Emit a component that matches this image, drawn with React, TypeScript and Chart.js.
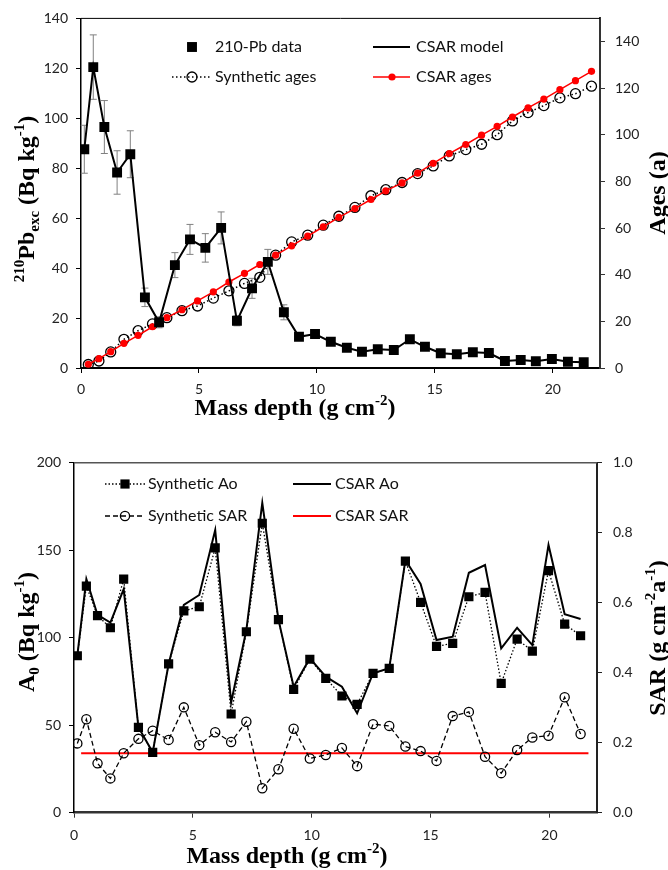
import React, { useEffect, useRef } from 'react';
import { Chart, registerables } from 'chart.js';
Chart.register(...registerables);

// ---------- DATA ----------
const depthMid = [0.14, 0.52, 0.99, 1.53, 2.09, 2.71, 3.31, 3.98, 4.62, 5.27, 5.94, 6.61, 7.25, 7.92, 8.6, 9.24, 9.92, 10.59, 11.27, 11.91, 12.58, 13.26, 13.94, 14.58, 15.25, 15.93, 16.61, 17.29, 17.97, 18.64, 19.28, 19.96, 20.64, 21.31];
const depthBase = [0.31, 0.76, 1.26, 1.82, 2.42, 3.03, 3.64, 4.28, 4.94, 5.61, 6.27, 6.93, 7.58, 8.25, 8.93, 9.61, 10.27, 10.93, 11.61, 12.29, 12.92, 13.61, 14.27, 14.93, 15.61, 16.31, 16.98, 17.64, 18.29, 18.95, 19.62, 20.3, 20.96, 21.64];
const pbExcess = [87.6, 120.5, 96.5, 78.3, 85.6, 28.3, 18.3, 41.2, 51.5, 48.1, 56.1, 18.9, 31.9, 42.5, 22.3, 12.5, 13.6, 10.5, 8.1, 6.5, 7.5, 7.2, 11.5, 8.5, 5.9, 5.5, 6.3, 6.0, 2.8, 3.2, 2.7, 3.6, 2.5, 2.3];
const pbError = [9.6, 12.9, 10.6, 8.7, 9.4, 3.7, 2.2, 5.0, 6.0, 5.7, 6.4, 2.0, 4.0, 5.0, 3.0, 1.5, 1.5, 1.2, 1.0, 0.8, 0.9, 0.9, 1.2, 1.0, 0.8, 0.8, 0.8, 0.8, 0.5, 0.5, 0.5, 0.6, 0.5, 0.5];
const csarModel = [87.6, 120.5, 96.5, 78.3, 85.6, 28.3, 18.3, 41.2, 51.5, 48.1, 56.1, 18.9, 31.9, 42.5, 22.3, 12.5, 13.6, 10.5, 8.1, 6.5, 7.5, 7.2, 11.5, 8.5, 5.9, 5.5, 6.3, 6.0, 2.8, 3.2, 2.7, 3.6, 2.5, 2.3];
const syntheticAges = [1.5, 3.0, 6.9, 12.3, 16.0, 18.9, 21.6, 24.6, 26.6, 30.0, 33.1, 36.3, 38.9, 48.4, 54.1, 57.0, 61.3, 65.1, 68.9, 73.9, 76.5, 79.6, 83.4, 86.7, 91.0, 93.7, 96.0, 100.1, 106.0, 109.6, 112.6, 115.9, 117.7, 120.9];
const csarAges = [1.6, 4.0, 7.0, 10.6, 14.0, 17.7, 21.6, 25.0, 28.8, 32.7, 36.9, 40.6, 44.4, 48.4, 52.4, 56.6, 60.6, 64.6, 68.4, 72.3, 76.0, 79.4, 83.6, 87.8, 92.0, 95.9, 99.9, 103.7, 107.7, 111.6, 115.4, 119.4, 123.3, 127.3];
const syntheticA0 = [89.7, 129.5, 112.6, 105.7, 133.5, 48.8, 34.5, 85.0, 115.3, 117.7, 151.3, 56.4, 103.4, 165.4, 110.3, 70.5, 87.7, 76.8, 66.7, 61.9, 79.6, 82.5, 143.8, 120.2, 95.0, 96.8, 123.4, 125.9, 73.9, 99.2, 92.3, 138.3, 107.8, 101.1];
const csarA0 = [89.7, 133.5, 113.0, 108.6, 127.7, 48.8, 34.5, 85.0, 118.7, 124.4, 161.5, 63.0, 104.4, 177.0, 110.3, 72.0, 88.3, 77.7, 72.0, 56.8, 79.7, 82.5, 144.4, 130.7, 98.7, 100.6, 137.1, 141.5, 93.9, 105.7, 95.8, 153.0, 113.4, 110.7];
const syntheticSAR = [0.198, 0.267, 0.141, 0.098, 0.170, 0.211, 0.234, 0.208, 0.301, 0.193, 0.230, 0.202, 0.260, 0.070, 0.124, 0.240, 0.155, 0.165, 0.185, 0.133, 0.253, 0.248, 0.189, 0.176, 0.148, 0.276, 0.288, 0.160, 0.113, 0.179, 0.215, 0.220, 0.330, 0.225];
const csarSARDepths = [0.3, 21.64];
const csarSARValues = [0.17, 0.17];

const xTicks = [0, 5, 10, 15, 20];
const pbTicks = [0, 20, 40, 60, 80, 100, 120, 140];
const ageTicks = [0, 20, 40, 60, 80, 100, 120, 140];
const a0Ticks = [0, 50, 100, 150, 200];
const sarTicks = [0, 0.2, 0.4, 0.6, 0.8, 1.0];

// ---------- HELPERS ----------
const TICK_FONT = { family: 'Lato, "Open Sans", sans-serif', size: 14 };
const LEGEND_FONT = '16px Lato, "Open Sans", sans-serif';
const SERIF = '"Liberation Serif", "Times New Roman", serif';
const T = 24; // title font size
const S = 15; // sub/superscript size

type Seg = { t: string; s: number; dy?: number };
type Title = { segs: Seg[]; x: number; y: number; rot: number };

function drawRich(ctx: CanvasRenderingContext2D, t: Title) {
  ctx.save();
  ctx.translate(t.x, t.y);
  ctx.rotate(t.rot);
  ctx.fillStyle = '#000';
  ctx.textBaseline = 'alphabetic';
  ctx.textAlign = 'left';
  const widths = t.segs.map((s) => {
    ctx.font = `bold ${s.s}px ${SERIF}`;
    return ctx.measureText(s.t).width;
  });
  const total = widths.reduce((a, b) => a + b, 0);
  let x = -total / 2;
  t.segs.forEach((s, i) => {
    ctx.font = `bold ${s.s}px ${SERIF}`;
    ctx.fillText(s.t, x, s.dy || 0);
    x += widths[i];
  });
  ctx.restore();
}

type LegendItem = {
  label: string;
  ds: number;
  line?: [number, number];
  mx?: number;
  tx: number;
  y: number;
};

function drawMarker(ctx: CanvasRenderingContext2D, ds: any, x: number, y: number) {
  const r = ds.pointRadius;
  if (!r) return;
  ctx.save();
  ctx.setLineDash([]);
  if (ds.pointStyle === 'rect') {
    const h = r * Math.SQRT1_2;
    ctx.fillStyle = ds.pointBackgroundColor;
    ctx.fillRect(x - h, y - h, 2 * h, 2 * h);
  } else {
    ctx.beginPath();
    ctx.arc(x, y, r, 0, Math.PI * 2);
    ctx.fillStyle = ds.pointBackgroundColor;
    ctx.fill();
    if (ds.pointBorderWidth) {
      ctx.lineWidth = ds.pointBorderWidth;
      ctx.strokeStyle = ds.pointBorderColor;
      ctx.stroke();
    }
  }
  ctx.restore();
}

function makeDecorPlugin(titles: Title[], legend: LegendItem[], topBorder: { color: string; width: number }) {
  return {
    id: 'decor',
    afterDraw(chart: any) {
      const ctx: CanvasRenderingContext2D = chart.ctx;
      const a = chart.chartArea;
      ctx.save();
      ctx.strokeStyle = topBorder.color;
      ctx.lineWidth = topBorder.width;
      ctx.beginPath();
      ctx.moveTo(a.left, a.top);
      ctx.lineTo(a.right, a.top);
      ctx.stroke();
      ctx.restore();
      titles.forEach((t) => drawRich(ctx, t));
      legend.forEach((it) => {
        const ds = chart.data.datasets[it.ds];
        if (it.line) {
          ctx.save();
          ctx.strokeStyle = ds.borderColor;
          ctx.lineWidth = ds.borderWidth;
          ctx.setLineDash(ds.borderDash || []);
          ctx.beginPath();
          ctx.moveTo(it.line[0], it.y);
          ctx.lineTo(it.line[1], it.y);
          ctx.stroke();
          ctx.restore();
        }
        if (it.mx !== undefined) drawMarker(ctx, ds, it.mx, it.y);
        ctx.save();
        ctx.font = LEGEND_FONT;
        ctx.fillStyle = '#111';
        ctx.textBaseline = 'middle';
        ctx.textAlign = 'left';
        ctx.fillText(it.label, it.tx, it.y);
        ctx.restore();
      });
    },
  };
}

const errorBarPlugin = {
  id: 'errorBars',
  beforeDatasetsDraw(chart: any) {
    const ctx: CanvasRenderingContext2D = chart.ctx;
    const xs = chart.scales.x;
    const ys = chart.scales.y;
    ctx.save();
    ctx.strokeStyle = '#808080';
    ctx.lineWidth = 1;
    depthMid.forEach((d, i) => {
      const x = xs.getPixelForValue(d);
      const y1 = ys.getPixelForValue(pbExcess[i] + pbError[i]);
      const y2 = ys.getPixelForValue(pbExcess[i] - pbError[i]);
      ctx.beginPath();
      ctx.moveTo(x, y1);
      ctx.lineTo(x, y2);
      ctx.moveTo(x - 3.5, y1);
      ctx.lineTo(x + 3.5, y1);
      ctx.moveTo(x - 3.5, y2);
      ctx.lineTo(x + 3.5, y2);
      ctx.stroke();
    });
    ctx.restore();
  },
};

function axis(opts: {
  pos: 'left' | 'right' | 'bottom';
  min: number;
  max: number;
  ticks: number[];
  size: number;
  pad: number;
  border: { color: string; width: number };
  fmt?: (v: number) => string;
}) {
  return {
    type: 'linear',
    position: opts.pos,
    min: opts.min,
    max: opts.max,
    afterBuildTicks: (s: any) => {
      s.ticks = opts.ticks.map((v) => ({ value: v }));
    },
    afterFit: (s: any) => {
      if (opts.pos === 'bottom') s.height = opts.size;
      else s.width = opts.size;
    },
    grid: {
      display: true,
      drawOnChartArea: false,
      drawTicks: true,
      tickLength: 5,
      color: opts.border.color,
      lineWidth: 1,
    },
    border: { display: true, color: opts.border.color, width: opts.border.width },
    ticks: {
      font: TICK_FONT,
      color: '#222',
      padding: opts.pad,
      callback: (v: any) => (opts.fmt ? opts.fmt(Number(v)) : String(v)),
    },
  };
}

const pts = (xs: number[], ys: number[]) => xs.map((x, i) => ({ x, y: ys[i] }));

function TopChart() {
  const ref = useRef<HTMLCanvasElement>(null);
  useEffect(() => {
    const titles: Title[] = [
      { segs: [{ t: 'Mass depth (g cm', s: T }, { t: '-2', s: S, dy: -10 }, { t: ')', s: T }], x: 295, y: 415, rot: 0 },
      {
        segs: [
          { t: '210', s: S, dy: -10 },
          { t: 'Pb', s: T },
          { t: 'exc', s: S, dy: 5 },
          { t: ' (Bq kg', s: T },
          { t: '-1', s: S, dy: -10 },
          { t: ')', s: T },
        ],
        x: 34,
        y: 199,
        rot: -Math.PI / 2,
      },
      { segs: [{ t: 'Ages (a)', s: T }], x: 665, y: 193, rot: -Math.PI / 2 },
    ];
    const legend: LegendItem[] = [
      { label: '210-Pb data', ds: 0, mx: 192, tx: 215, y: 47 },
      { label: 'CSAR model', ds: 1, line: [373, 410], tx: 416, y: 47 },
      { label: 'Synthetic ages', ds: 3, line: [172, 210], mx: 192, tx: 215, y: 77 },
      { label: 'CSAR ages', ds: 2, line: [373, 410], mx: 392, tx: 416, y: 77 },
    ];
    const chart = new Chart(ref.current!, {
      type: 'scatter',
      data: {
        datasets: [
          {
            label: '210-Pb data',
            data: pts(depthMid, pbExcess),
            showLine: false,
            pointStyle: 'rect',
            pointRadius: 7,
            pointBackgroundColor: '#000',
            pointBorderWidth: 0,
            borderColor: '#000',
            yAxisID: 'y',
            order: 0,
          },
          {
            label: 'CSAR model',
            data: pts(depthMid, csarModel),
            showLine: true,
            borderColor: '#000',
            borderWidth: 2,
            pointRadius: 0,
            yAxisID: 'y',
            order: 1,
          },
          {
            label: 'CSAR ages',
            data: pts(depthBase, csarAges),
            showLine: true,
            borderColor: '#ff0000',
            borderWidth: 1.5,
            pointRadius: 3.6,
            pointStyle: 'circle',
            pointBackgroundColor: '#ff0000',
            pointBorderWidth: 0,
            yAxisID: 'y2',
            order: 2,
          },
          {
            label: 'Synthetic ages',
            data: pts(depthBase, syntheticAges),
            showLine: true,
            borderColor: '#000',
            borderWidth: 1.5,
            borderDash: [1.5, 2.5],
            pointRadius: 5,
            pointStyle: 'circle',
            pointBackgroundColor: 'rgba(0,0,0,0)',
            pointBorderColor: '#000',
            pointBorderWidth: 1.3,
            yAxisID: 'y2',
            order: 3,
          },
        ],
      },
      options: {
        responsive: false,
        animation: false,
        layout: { padding: { top: 18, left: 0, right: 0, bottom: 0 } },
        plugins: { legend: { display: false }, tooltip: { enabled: false } },
        scales: {
          x: axis({ pos: 'bottom', min: 0, max: 22, ticks: xTicks, size: 52, pad: 8, border: { color: '#000', width: 2 } }),
          y: axis({ pos: 'left', min: 0, max: 140, ticks: pbTicks, size: 81, pad: 8, border: { color: '#000', width: 1.5 } }),
          y2: axis({ pos: 'right', min: 0, max: 150, ticks: ageTicks, size: 68, pad: 10, border: { color: '#333', width: 2 } }),
        } as any,
      },
      plugins: [errorBarPlugin, makeDecorPlugin(titles, legend, { color: '#000', width: 1 })],
    } as any);
    return () => chart.destroy();
  }, []);
  return <canvas ref={ref} width={668} height={420} style={{ display: 'block' }} />;
}

function BottomChart() {
  const ref = useRef<HTMLCanvasElement>(null);
  useEffect(() => {
    const titles: Title[] = [
      { segs: [{ t: 'Mass depth (g cm', s: T }, { t: '-2', s: S, dy: -10 }, { t: ')', s: T }], x: 287, y: 443, rot: 0 },
      {
        segs: [
          { t: 'A', s: T },
          { t: '0', s: S, dy: 5 },
          { t: ' (Bq kg', s: T },
          { t: '-1', s: S, dy: -10 },
          { t: ')', s: T },
        ],
        x: 34,
        y: 212,
        rot: -Math.PI / 2,
      },
      {
        segs: [
          { t: 'SAR (g cm', s: T },
          { t: '-2', s: S, dy: -10 },
          { t: 'a', s: T },
          { t: '-1', s: S, dy: -10 },
          { t: ')', s: T },
        ],
        x: 665,
        y: 218,
        rot: -Math.PI / 2,
      },
    ];
    const legend: LegendItem[] = [
      { label: 'Synthetic Ao', ds: 0, line: [105, 145], mx: 125, tx: 148, y: 64 },
      { label: 'CSAR Ao', ds: 1, line: [293, 331], tx: 335, y: 64 },
      { label: 'Synthetic SAR', ds: 2, line: [105, 145], mx: 125, tx: 148, y: 96 },
      { label: 'CSAR SAR', ds: 3, line: [293, 331], tx: 335, y: 96 },
    ];
    const chart = new Chart(ref.current!, {
      type: 'scatter',
      data: {
        datasets: [
          {
            label: 'Synthetic Ao',
            data: pts(depthMid, syntheticA0),
            showLine: true,
            borderColor: '#000',
            borderWidth: 1.3,
            borderDash: [1.5, 2],
            pointStyle: 'rect',
            pointRadius: 6.5,
            pointBackgroundColor: '#000',
            pointBorderWidth: 0,
            yAxisID: 'y',
            order: 0,
          },
          {
            label: 'CSAR Ao',
            data: pts(depthMid, csarA0),
            showLine: true,
            borderColor: '#000',
            borderWidth: 2,
            pointRadius: 0,
            yAxisID: 'y',
            order: 1,
          },
          {
            label: 'Synthetic SAR',
            data: pts(depthMid, syntheticSAR),
            showLine: true,
            borderColor: '#000',
            borderWidth: 1.3,
            borderDash: [5, 3],
            pointStyle: 'circle',
            pointRadius: 4.6,
            pointBackgroundColor: 'rgba(0,0,0,0)',
            pointBorderColor: '#000',
            pointBorderWidth: 1.3,
            yAxisID: 'y2',
            order: 2,
          },
          {
            label: 'CSAR SAR',
            data: pts(csarSARDepths, csarSARValues),
            showLine: true,
            borderColor: '#ff0000',
            borderWidth: 2,
            pointRadius: 0,
            yAxisID: 'y2',
            order: 3,
          },
        ],
      },
      options: {
        responsive: false,
        animation: false,
        layout: { padding: { top: 42.7, left: 0, right: 0, bottom: 0 } },
        plugins: { legend: { display: false }, tooltip: { enabled: false } },
        scales: {
          x: axis({ pos: 'bottom', min: 0, max: 22, ticks: xTicks, size: 57.3, pad: 9, border: { color: '#333', width: 2.5 } }),
          y: axis({ pos: 'left', min: 0, max: 200, ticks: a0Ticks, size: 74, pad: 8, border: { color: '#000', width: 1.5 } }),
          y2: axis({
            pos: 'right',
            min: 0,
            max: 1,
            ticks: sarTicks,
            size: 71,
            pad: 11,
            border: { color: '#222', width: 2 },
            fmt: (v) => v.toFixed(1),
          }),
        } as any,
      },
      plugins: [makeDecorPlugin(titles, legend, { color: '#555', width: 1.5 })],
    } as any);
    return () => chart.destroy();
  }, []);
  return <canvas ref={ref} width={668} height={450} style={{ display: 'block' }} />;
}

export default function App() {
  return (
    <div style={{ position: 'absolute', left: 0, top: 0, width: 668, height: 870, background: '#fff' }}>
      <TopChart />
      <BottomChart />
    </div>
  );
}
